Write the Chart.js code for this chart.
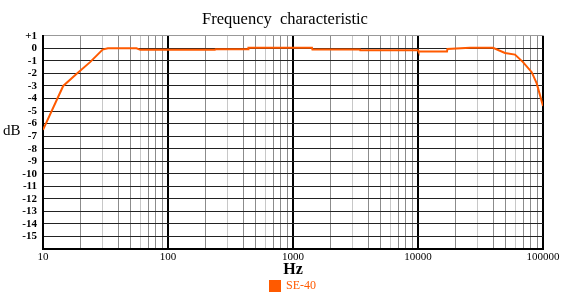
<!DOCTYPE html>
<html>
<head>
<meta charset="utf-8">
<script src="https://cdn.jsdelivr.net/npm/chart.js@4.4.1/dist/chart.umd.min.js"></script>
<style>
  html, body { margin: 0; padding: 0; background: #fff; }
  #wrap { width: 570px; height: 304px; }
</style>
</head>
<body>
<div id="wrap"><canvas id="chart" width="570" height="304"></canvas></div>
<script>
// --- data ---
const freqs = [10, 14.5, 18.7, 23.8, 30, 33, 56, 60, 237, 240, 437, 440, 1419, 1430, 3435, 3450,
               10000, 10100, 17060, 17200, 26060, 39810, 49660, 59700, 69180, 81210, 89050, 100000];
const dbValues = [-6.5, -3.0, -2.0, -1.1, -0.1, 0.0, 0.0, -0.12, -0.12, -0.08, -0.08, 0.05, 0.05, -0.1, -0.1, -0.15,
                  -0.15, -0.25, -0.25, -0.05, 0.05, 0.05, -0.37, -0.5, -1.1, -1.9, -2.8, -4.6];
const decades = [10, 100, 1000, 10000, 100000];
const seriesName = "SE-40";

const serif = "'Liberation Serif', 'DejaVu Serif', serif";
const orange = "#ff5a00";

// horizontal "dB" label on the left
const dbLabel = {
    id: "dbLabel",
    afterDraw(chart) {
        const c = chart.ctx;
        c.save();
        c.font = "15px " + serif;
        c.fillStyle = "#000";
        c.textBaseline = "middle";
        c.fillText("dB", 3, 131);
        c.restore();
    }
};

const points = freqs.map((f, i) => ({ x: f, y: dbValues[i] }));

const chart = new Chart(document.getElementById("chart"), {
    type: "line",
    data: {
        datasets: [{
            label: seriesName,
            data: points,
            borderColor: orange,
            backgroundColor: orange,
            borderWidth: 2,
            pointRadius: 0,
            tension: 0
        }]
    },
    plugins: [dbLabel],
    options: {
        responsive: false,
        animation: false,
        layout: { padding: { left: 0, right: 0, top: 0, bottom: 2 } },
        plugins: {
            title: {
                display: true,
                text: "Frequency  characteristic",
                color: "#000",
                font: { family: serif, size: 16.5, weight: "normal" },
                padding: { top: 10, bottom: 6 }
            },
            legend: {
                position: "bottom",
                fullSize: false,
                labels: {
                    color: orange,
                    font: { family: serif, size: 12 },
                    boxWidth: 10,
                    boxHeight: 10,
                    padding: 0
                }
            },
            tooltip: { enabled: false }
        },
        scales: {
            x: {
                type: "logarithmic",
                min: 10,
                max: 100000,
                afterBuildTicks(scale) {
                    const t = [];
                    for (let d = 10; d < 100000; d *= 10) {
                        for (let m = 1; m < 10; m++) t.push({ value: d * m });
                    }
                    t.push({ value: 100000 });
                    scale.ticks = t;
                },
                ticks: {
                    autoSkip: false,
                    maxRotation: 0,
                    color: "#000",
                    font: { family: serif, size: 11, lineHeight: 1 },
                    padding: 3,
                    callback: (v) => decades.includes(v) ? String(v) : ""
                },
                grid: {
                    drawTicks: false,
                    color: (ctx) => {
                        const v = ctx.tick ? ctx.tick.value : 0;
                        if (decades.some(d => Math.abs(v - d) < 1e-6)) return "#000";
                        const m = Math.round(v / Math.pow(10, Math.floor(Math.log10(v) + 1e-9)));
                        return (m === 3 || m === 6) ? "#c8c8c8" : "#8c8c8c";
                    },
                    lineWidth: (ctx) => {
                        const v = ctx.tick ? ctx.tick.value : 0;
                        return decades.some(d => Math.abs(v - d) < 1e-6) ? 2 : 1;
                    }
                },
                border: { display: true, color: "#000", width: 2 },
                title: {
                    display: true,
                    text: "Hz",
                    color: "#000",
                    font: { family: serif, size: 16, weight: "bold", lineHeight: 1 },
                    padding: { top: -4, bottom: 2 }
                }
            },
            y: {
                min: -16,
                max: 1,
                afterBuildTicks(scale) {
                    const t = [];
                    for (let v = -16; v <= 1; v++) t.push({ value: v });
                    scale.ticks = t;
                },
                afterFit(scale) { scale.width = 43; },
                ticks: {
                    autoSkip: false,
                    color: "#000",
                    font: { family: serif, size: 11, weight: "bold" },
                    padding: 6,
                    callback: (v) => v === 1 ? "+1" : (v === -16 ? "" : String(v))
                },
                grid: {
                    drawTicks: false,
                    color: (ctx) => {
                        const v = ctx.tick ? ctx.tick.value : 0;
                        if (v === 1) return "#999";
                        return "#222";
                    },
                    lineWidth: (ctx) => (ctx.tick && ctx.tick.value === -16) ? 2 : 1
                },
                border: { display: true, color: "#000", width: 2 }
            },
            // empty right-hand axis that only keeps space free on the right
            yRight: {
                position: "right",
                min: -16,
                max: 1,
                afterFit(scale) { scale.width = 27; },
                ticks: { display: false },
                grid: { display: false, drawTicks: false },
                border: { display: false }
            }
        }
    }
});
</script>
</body>
</html>
